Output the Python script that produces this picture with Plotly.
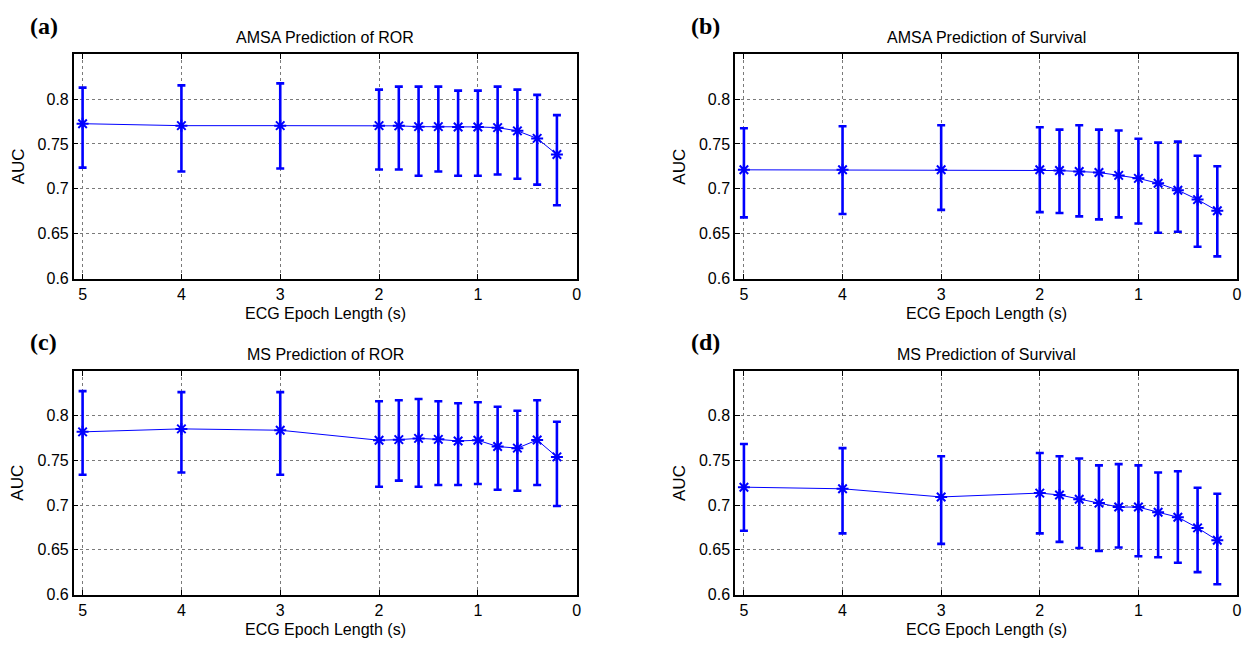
import plotly.graph_objects as go

# ---------------- data ----------------
epoch = [5, 4, 3, 2, 1.8, 1.6, 1.4, 1.2, 1.0, 0.8, 0.6, 0.4, 0.2]

titles = ["AMSA Prediction of ROR", "AMSA Prediction of Survival",
          "MS Prediction of ROR", "MS Prediction of Survival"]
panel_tags = ["(a)", "(b)", "(c)", "(d)"]

auc_a = [0.7726, 0.7704, 0.7704, 0.7704, 0.7702, 0.7693, 0.7693, 0.7690, 0.7690, 0.7682, 0.7646, 0.7562, 0.7383]
up_a = [0.8128, 0.8153, 0.8175, 0.8106, 0.8139, 0.8139, 0.8139, 0.8095, 0.8095, 0.8139, 0.8106, 0.8047, 0.7821]
lo_a = [0.7237, 0.7193, 0.7226, 0.7215, 0.7215, 0.7146, 0.7193, 0.7146, 0.7146, 0.7160, 0.7113, 0.7047, 0.6818]

auc_b = [0.7212, 0.7212, 0.7212, 0.7212, 0.7204, 0.7193, 0.7182, 0.7150, 0.7117, 0.7062, 0.6985, 0.6880, 0.6755]
up_b = [0.7675, 0.7697, 0.7708, 0.7686, 0.7660, 0.7708, 0.7660, 0.7650, 0.7558, 0.7515, 0.7526, 0.7369, 0.7252]
lo_b = [0.6682, 0.6719, 0.6766, 0.6741, 0.6730, 0.6693, 0.6660, 0.6682, 0.6613, 0.6511, 0.6522, 0.6354, 0.6248]

auc_c = [0.7818, 0.7851, 0.7836, 0.7724, 0.7731, 0.7745, 0.7734, 0.7716, 0.7724, 0.7654, 0.7636, 0.7727, 0.7538]
up_c = [0.8273, 0.8262, 0.8262, 0.8160, 0.8171, 0.8185, 0.8160, 0.8138, 0.8149, 0.8098, 0.8054, 0.8171, 0.7931]
lo_c = [0.7338, 0.7364, 0.7338, 0.7204, 0.7273, 0.7204, 0.7225, 0.7225, 0.7236, 0.7171, 0.7160, 0.7225, 0.6989]

auc_d = [0.7200, 0.7182, 0.7091, 0.7134, 0.7113, 0.7065, 0.7022, 0.6978, 0.6978, 0.6920, 0.6865, 0.6745, 0.6607]
up_d = [0.7683, 0.7636, 0.7545, 0.7582, 0.7545, 0.7520, 0.7444, 0.7458, 0.7444, 0.7364, 0.7378, 0.7193, 0.7127]
lo_d = [0.6713, 0.6684, 0.6567, 0.6684, 0.6589, 0.6520, 0.6487, 0.6527, 0.6429, 0.6418, 0.6356, 0.6251, 0.6116]

x_ticks = [5, 4, 3, 2, 1, 0]
x_ticktext = ["5", "4", "3", "2", "1", "0"]
y_ticks = [0.6, 0.65, 0.7, 0.75, 0.8]
y_ticktext = ["0.6", "0.65", "0.7", "0.75", "0.8"]

series = [(auc_a, up_a, lo_a), (auc_b, up_b, lo_b), (auc_c, up_c, lo_c), (auc_d, up_d, lo_d)]

# ---------------- layout geometry (pixels) ----------------
W, H = 1248, 648
boxes = [  # left, right, top, bottom
    (74, 579, 55, 282.5),
    (738, 1242, 55, 282.5),
    (74, 579, 376, 603),
    (738, 1242, 376, 603),
]
BLUE = "#0000FF"
FONT = "Liberation Sans, Arial, sans-serif"

fig = go.Figure()
annotations = []
layout_axes = {}

for i, ((auc, up, lo), box) in enumerate(zip(series, boxes)):
    n = i + 1
    xa = "x" if n == 1 else f"x{n}"
    ya = "y" if n == 1 else f"y{n}"
    eplus = [u - a for u, a in zip(up, auc)]
    eminus = [a - l for a, l in zip(auc, lo)]
    fig.add_trace(go.Scatter(
        x=epoch, y=auc, xaxis=xa, yaxis=ya, mode="lines+markers",
        line=dict(color=BLUE, width=1),
        marker=dict(symbol="asterisk-open", size=10, color=BLUE,
                    line=dict(color=BLUE, width=2)),
        error_y=dict(type="data", symmetric=False, array=eplus, arrayminus=eminus,
                     color=BLUE, thickness=2.6, width=4),
        showlegend=False, hoverinfo="x+y",
    ))
    l, r, t, b = box
    common = dict(showline=True, linecolor="black", linewidth=1.5, mirror="ticks",
                  ticks="inside", ticklen=5, tickcolor="black", tickwidth=1,
                  showgrid=True, gridcolor="#7a7a7a", gridwidth=1, griddash="dot",
                  zeroline=False, tickfont=dict(family=FONT, size=16, color="black"))
    layout_axes["xaxis" if n == 1 else f"xaxis{n}"] = dict(
        domain=[l / W, r / W], anchor=ya, range=[5.09, 0],
        tickvals=x_ticks, ticktext=x_ticktext, **common)
    layout_axes["yaxis" if n == 1 else f"yaxis{n}"] = dict(
        domain=[1 - b / H, 1 - t / H], anchor=xa, range=[0.6, 0.85],
        tickvals=y_ticks, ticktext=y_ticktext, **common)

    cx = (l + r) / 2
    # title
    annotations.append(dict(text=titles[i], x=cx / W, y=1 - (t - 17) / H, xref="paper", yref="paper",
                            showarrow=False, xanchor="center", yanchor="middle",
                            font=dict(family=FONT, size=16, color="black")))
    # x axis title
    annotations.append(dict(text="ECG Epoch Length (s)", x=cx / W, y=1 - (b + 35) / H,
                            xref="paper", yref="paper", showarrow=False,
                            xanchor="center", yanchor="middle",
                            font=dict(family=FONT, size=16, color="black")))
    # y axis title
    annotations.append(dict(text="AUC", x=(l - 56) / W, y=1 - ((t + b) / 2) / H,
                            xref="paper", yref="paper", showarrow=False, textangle=-90,
                            xanchor="center", yanchor="middle",
                            font=dict(family=FONT, size=17, color="black")))
    # panel tag
    annotations.append(dict(text="<b>" + panel_tags[i] + "</b>", x=(l - 30) / W, y=1 - (t - 29) / H,
                            xref="paper", yref="paper", showarrow=False,
                            xanchor="center", yanchor="middle",
                            font=dict(family="Liberation Serif, Times New Roman, serif",
                                      size=24, color="black")))

fig.update_layout(
    width=W, height=H, margin=dict(l=0, r=0, t=0, b=0),
    paper_bgcolor="white", plot_bgcolor="white",
    annotations=annotations, **layout_axes,
)

fig.write_html("out.html")
